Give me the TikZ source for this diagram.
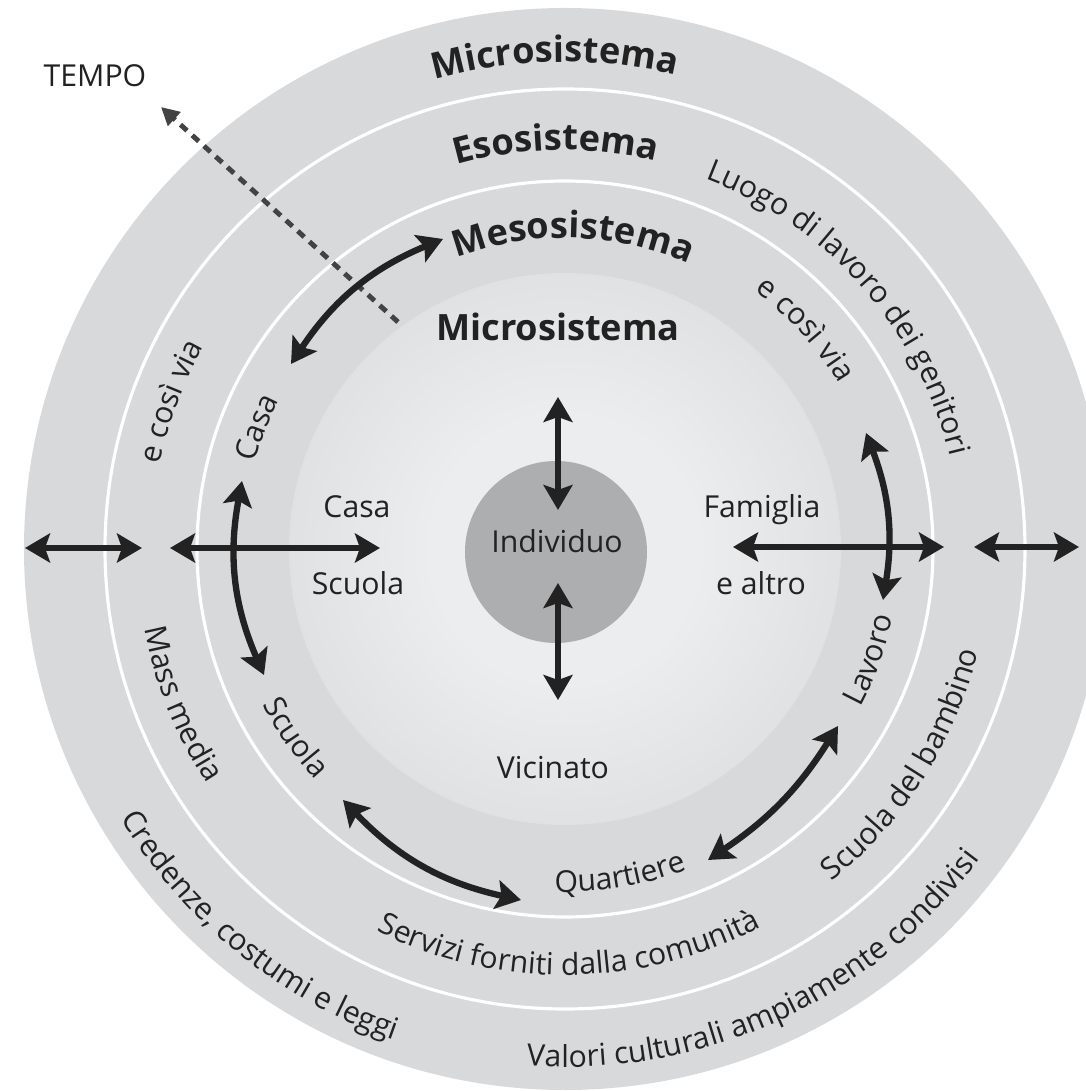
\documentclass[tikz,border=0pt]{standalone}
\usepackage{fontspec}
\setmainfont{Open Sans}
\usetikzlibrary{arrows.meta, decorations.text}
\definecolor{anelloGrigio}{HTML}{D8D9DB}
\definecolor{microChiaro}{HTML}{ECEDEE}
\definecolor{microMedio}{HTML}{DADBDD}
\definecolor{microScuro}{HTML}{C3C4C6}
\definecolor{indivGrigio}{HTML}{ADAEB0}
\definecolor{testoNero}{HTML}{222222}
\pgfdeclareradialshading{microsfum}{\pgfpoint{0bp}{0bp}}{color(0bp)=(microChiaro); color(12bp)=(microChiaro); color(32bp)=(microMedio); color(50bp)=(microScuro)}
\newcommand{\testoreg}{\fontsize{8.6}{10}\selectfont}
\newcommand{\testobold}{\fontsize{10.3}{12}\selectfont\bfseries}

\begin{document}
\begin{tikzpicture}[x=0.01cm, y=0.01cm,
    freccia/.style={{Stealth[length=2.5mm, width=2.9mm, inset=0.5mm]}-{Stealth[length=2.5mm, width=2.9mm, inset=0.5mm]},
                    line width=1.8pt, color=testoNero},
    tempo/.style={-{Triangle[length=1.8mm, width=1.8mm]}, line width=1.4pt,
                  dash pattern=on 2.5pt off 2pt, color=testoNero!85},
    etich/.style={font=\testoreg, text=testoNero, anchor=base, inner sep=0pt},
    titolo/.style={font=\testobold, text=testoNero, anchor=base, inner sep=0pt},
    curva/.style={decorate, decoration={text along path, text align=center,
                  text color=testoNero, text={#1}}},
    bordo/.style={draw=white, line width=0.9pt}]
    \useasboundingbox (-565,-542) rectangle (521,549);
    \fill[white] (-565,-542) rectangle (521,549);
    \clip (-565,-542) rectangle (521,549);
    \fill[anelloGrigio] (0,0) circle[radius=541];
    \draw[bordo] (0,0) circle[radius=460];
    \draw[bordo] (0,0) circle[radius=368];
    \shade[shading=microsfum] (0,0) circle[radius=276];
    \fill[indivGrigio] (-9,-3) circle[radius=91];
    \node[etich] (tempo) at (-470,462) {TEMPO};
    \node[titolo] (micro) at (-7,208) {Microsistema};
    \node[etich] (indiv) at (-8,-4) {Individuo};
    \node[etich] (casa) at (-208,31) {Casa};
    \node[etich] (scuola) at (-207,-46) {Scuola};
    \node[etich] (famiglia) at (197,31) {Famiglia};
    \node[etich] (altro) at (196,-46) {e altro};
    \node[etich] (vicinato) at (-12,-229) {Vicinato};
    \path[curva={|\testobold|Microsistema}] (171.2:487) arc[start angle=171.2, end angle=11.2, radius=487];
    \path[curva={|\testobold|Esosistema}] (171.3:399) arc[start angle=171.3, end angle=11.3, radius=399];
    \path[curva={|\testobold|Mesosistema}] (168.5:311) arc[start angle=168.5, end angle=8.5, radius=311];
    \path[curva={|\testoreg|Luogo di lavoro dei genitori}] (121.4:396) arc[start angle=121.4, end angle=-38.6, radius=396];
    \path[curva={|\testoreg|e così via}] (122.4:320) arc[start angle=122.4, end angle=-37.6, radius=320];
    \path[curva={|\testoreg|e così via}] (239.5:414) arc[start angle=239.5, end angle=79.5, radius=414];
    \path[curva={|\testoreg|Casa}] (238.5:322) arc[start angle=238.5, end angle=78.5, radius=322];
    \path[curva={|\testoreg|Mass media}] (122:428) arc[start angle=122, end angle=282, radius=428];
    \path[curva={|\testoreg|Scuola}] (135:340) arc[start angle=135, end angle=295, radius=340];
    \path[curva={|\testoreg|Credenze, costumi e leggi}] (151:520) arc[start angle=151, end angle=311, radius=520];
    \path[curva={|\testoreg|Servizi forniti dalla comunità}] (190.6:426) arc[start angle=190.6, end angle=350.6, radius=426];
    \path[curva={|\testoreg|Quartiere}] (199.6:343) arc[start angle=199.6, end angle=359.6, radius=343];
    \path[curva={|\testoreg|Lavoro}] (260:335) arc[start angle=260, end angle=420, radius=335];
    \path[curva={|\testoreg|Scuola del bambino}] (247.4:426) arc[start angle=247.4, end angle=407.4, radius=426];
    \path[curva={|\testoreg|Valori culturali ampiamente condivisi}] (214.5:518) arc[start angle=214.5, end angle=374.5, radius=518];
    \coordinate (sxa) at (-540,1);  \coordinate (sxb) at (-423,1);
    \coordinate (sxc) at (-395,1);  \coordinate (sxd) at (-185,1);
    \coordinate (dxa) at (168,2);   \coordinate (dxb) at (379,2);
    \coordinate (dxc) at (409,2);   \coordinate (dxd) at (514,2);
    \coordinate (su) at (-7,152);   \coordinate (sub) at (-7,39);
    \coordinate (gia) at (-7,-34);  \coordinate (gib) at (-7,-151);
    \coordinate (casaA) at (-274,185);  \coordinate (mesoA) at (-122,310);
    \coordinate (casaB) at (-323,68);   \coordinate (scuolaB) at (-301,-126);
    \coordinate (lavA) at (301,116);    \coordinate (lavB) at (318,-51);
    \coordinate (scuolaC) at (-222,-251); \coordinate (quartC) at (-44,-351);
    \coordinate (quartD) at (143,-311);   \coordinate (lavD) at (273,-177);
    \coordinate (t0) at (-167,227); \coordinate (t1) at (-404,442);
    \draw[tempo] (t0) -- (t1);
    \draw[freccia] (sxa) -- (sxb); \draw[freccia] (sxc) -- (sxd);
    \draw[freccia] (dxa) -- (dxb); \draw[freccia] (dxc) -- (dxd);
    \draw[freccia] (su) -- (sub);  \draw[freccia] (gia) -- (gib);
    \draw[freccia] (casaA) to[bend left=17] (mesoA);
    \draw[freccia] (casaB) to[bend right=17] (scuolaB);
    \draw[freccia] (lavA) to[bend left=15] (lavB);
    \draw[freccia] (scuolaC) to[bend right=17] (quartC);
    \draw[freccia] (quartD) to[bend right=12] (lavD);
  \end{tikzpicture}
\end{document}
